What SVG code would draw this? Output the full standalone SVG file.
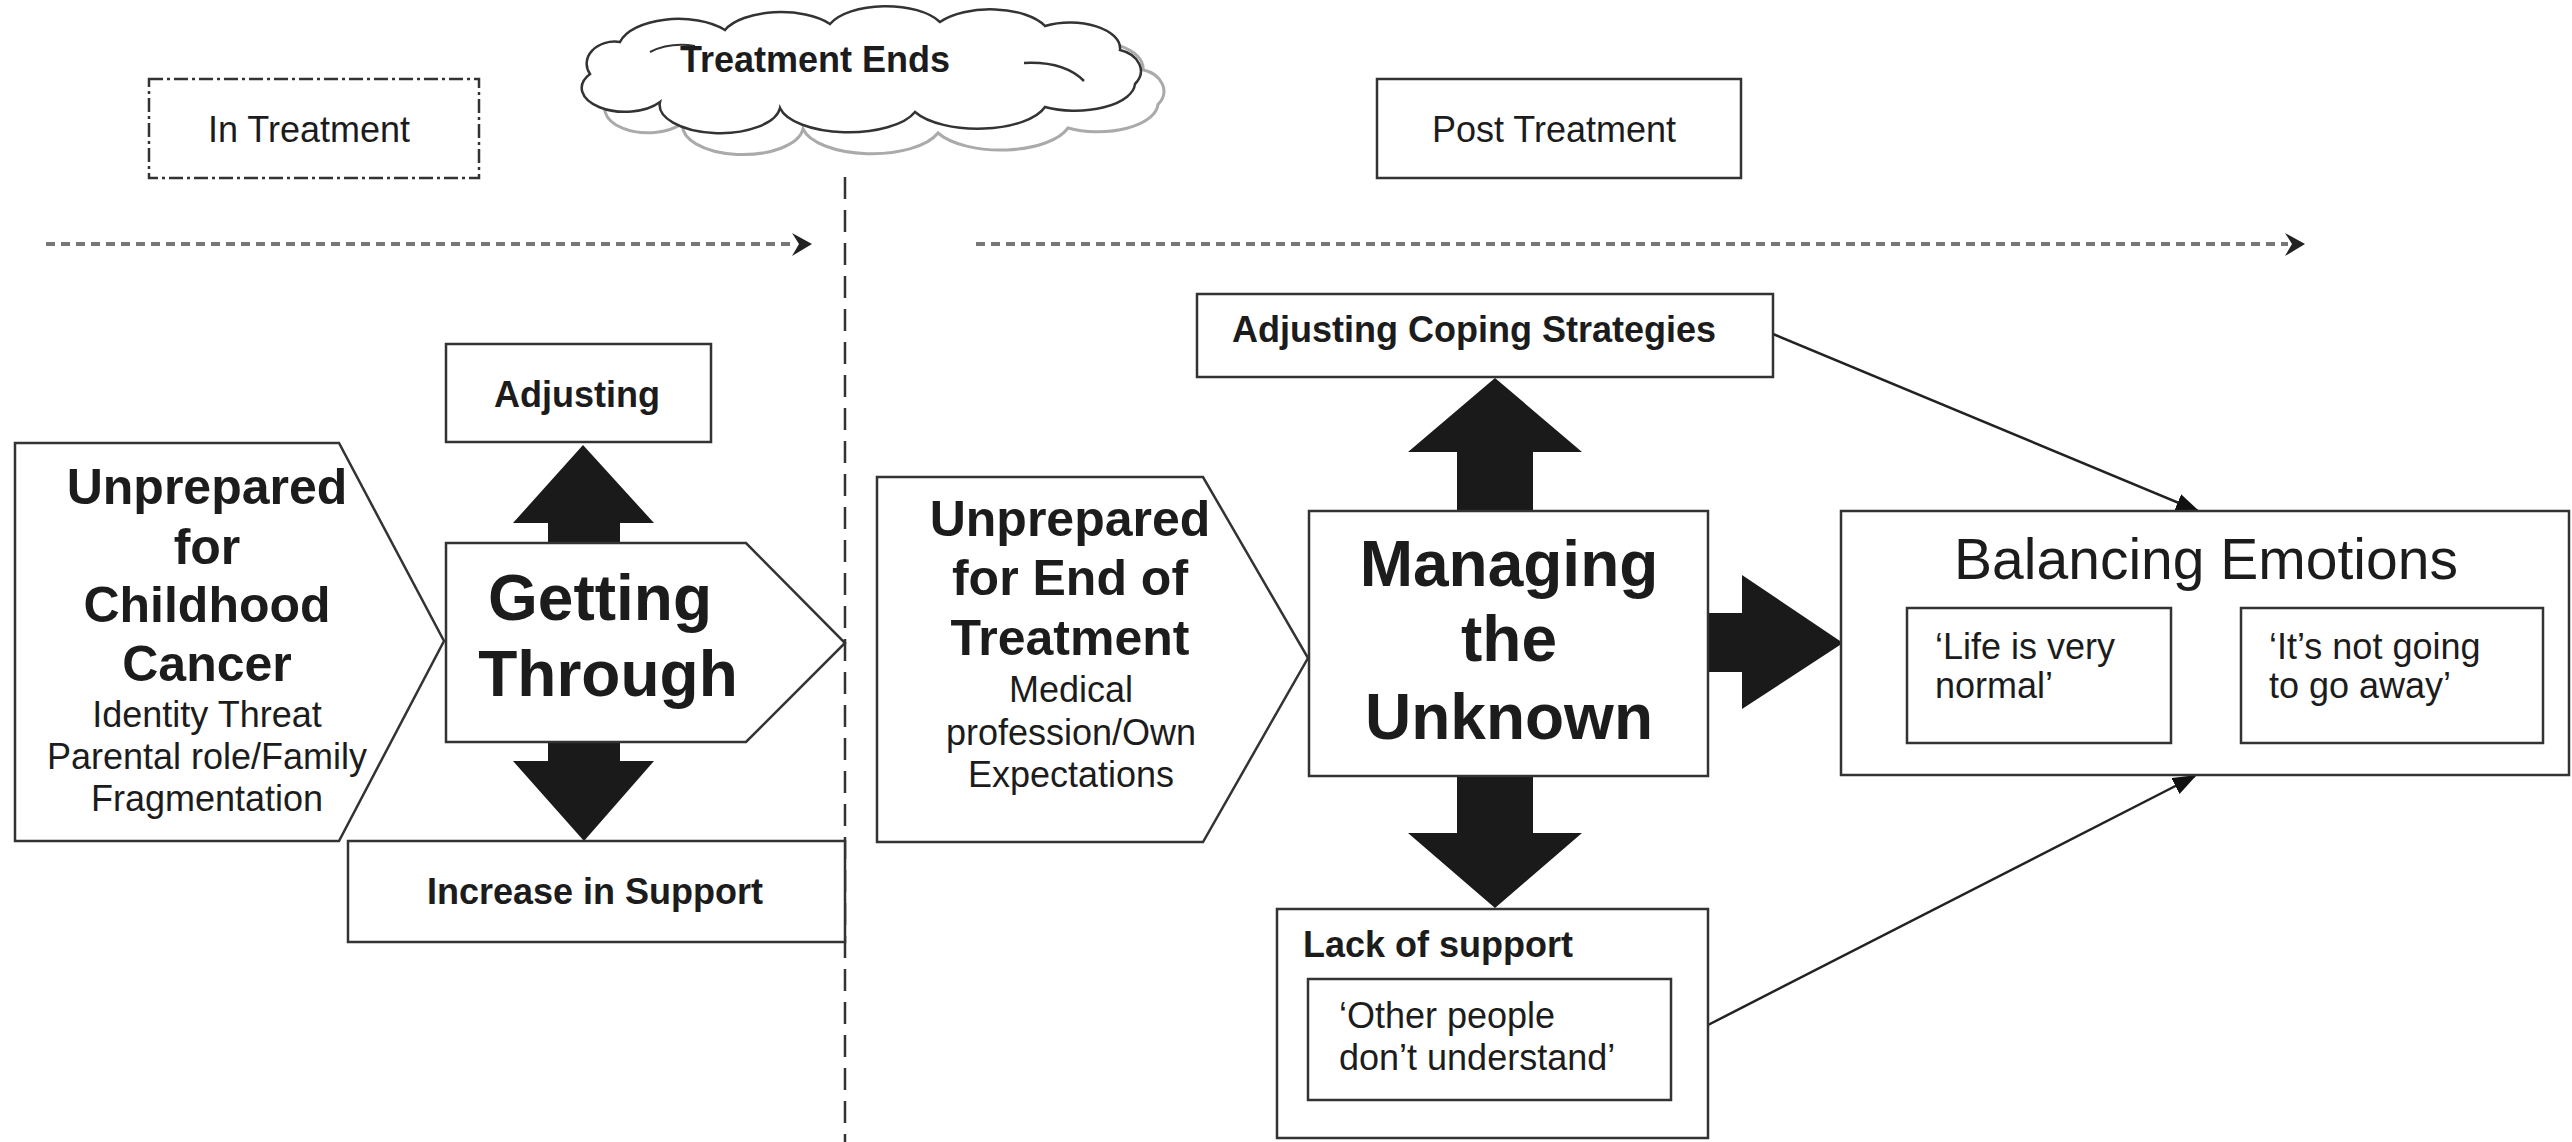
<svg xmlns="http://www.w3.org/2000/svg" width="2572" height="1142" viewBox="0 0 2572 1142">
<style>
text{font-family:"Liberation Sans",Arial,sans-serif;fill:#1c1c1c}
.b{font-weight:bold}
.lbl{font-size:36px;font-weight:bold}
.reg{font-size:36px}
.big{font-size:64px;font-weight:bold}
.mid{font-size:50px;font-weight:bold}
.box{fill:#fff;stroke:#333;stroke-width:2.5}
.blk{fill:#1a1a1a;stroke:none}
.dash{stroke:#777;stroke-width:4;stroke-dasharray:9 6;fill:none}
.chev{fill:#222}
.thin{stroke:#222;stroke-width:2.5;fill:none}
</style>
<defs>
<marker id="ah" markerUnits="userSpaceOnUse" markerWidth="24" markerHeight="18" refX="22" refY="9" orient="auto">
<path d="M0,0 L24,9 L0,18 Z" fill="#111"/>
</marker>
<path id="cloud" d="M 15 62 A 28 22 0 0 1 45 30 A 60 30 0 0 1 150 18 A 60 28 0 0 1 255 12 A 60 28 0 0 1 365 10 A 60 28 0 0 1 470 14 A 50 26 0 0 1 545 38 A 30 22 0 0 1 560 72 A 60 28 0 0 1 470 95 A 70 30 0 0 1 340 100 A 70 30 0 0 1 205 96 A 60 28 0 0 1 85 90 A 40 22 0 0 1 15 62 Z"/>
</defs>
<rect width="2572" height="1142" fill="#fff"/>

<g id="phase-in-treatment">
<rect x="149" y="79" width="330" height="99" fill="#fff" stroke="#333" stroke-width="2.5" stroke-dasharray="14 4 3 4"/>
<text class="reg" x="309" y="142" text-anchor="middle">In Treatment</text>
</g>

<g id="treatment-ends">
<use href="#cloud" transform="translate(598,31) scale(1.0,1.02)" fill="#fff" stroke="#aaa" stroke-width="3"/>
<use href="#cloud" transform="translate(575,12)" fill="#fff" stroke="#333" stroke-width="2.5"/>
<path d="M 1024 63 q 40 -2 60 18" fill="none" stroke="#333" stroke-width="2.5"/>
<path d="M 650 52 q 20 -10 45 -6" fill="none" stroke="#333" stroke-width="2"/>
<text class="lbl" x="815" y="72" text-anchor="middle">Treatment Ends</text>
</g>

<g id="phase-post-treatment">
<rect x="1377" y="79" width="364" height="99" class="box"/>
<text class="reg" x="1554" y="142" text-anchor="middle">Post Treatment</text>
</g>

<g id="connectors">
<line x1="46" y1="244" x2="796" y2="244" class="dash"/>
<polygon class="chev" points="792,233 812,244 792,256 799,244"/>
<line x1="976" y1="244" x2="2288" y2="244" class="dash"/>
<polygon class="chev" points="2285,233 2305,244 2285,256 2292,244"/>
<line x1="845" y1="177" x2="845" y2="1142" stroke="#333" stroke-width="2.5" stroke-dasharray="22 11"/>
<polygon class="blk" points="548,544 548,523 513,523 583,445 654,523 620,523 620,544"/>
<polygon class="blk" points="548,742 548,761 513,761 584,841 654,761 620,761 620,742"/>
<polygon class="blk" points="1457,511 1457,452 1408,452 1495,378 1582,452 1533,452 1533,511"/>
<polygon class="blk" points="1457,776 1457,833 1408,833 1495,908 1582,833 1533,833 1533,776"/>
<polygon class="blk" points="1707,613 1742,613 1742,575 1843,643 1742,709 1742,672 1707,672"/>
<line x1="1773" y1="334" x2="2198" y2="511" class="thin" marker-end="url(#ah)"/>
<line x1="1708" y1="1025" x2="2195" y2="776" class="thin" marker-end="url(#ah)"/>
</g>

<g id="unprepared-childhood">
<polygon class="box" points="15,443 339,443 444,641 339,841 15,841"/>
<text class="mid" text-anchor="middle" x="207" y="504">Unprepared</text>
<text class="mid" text-anchor="middle" x="207" y="564">for</text>
<text class="mid" text-anchor="middle" x="207" y="622">Childhood</text>
<text class="mid" text-anchor="middle" x="207" y="681">Cancer</text>
<text class="reg" text-anchor="middle" x="207" y="727">Identity Threat</text>
<text class="reg" text-anchor="middle" x="207" y="769">Parental role/Family</text>
<text class="reg" text-anchor="middle" x="207" y="811">Fragmentation</text>
</g>

<g id="adjusting">
<rect x="446" y="344" width="265" height="98" class="box"/>
<text class="lbl" x="577" y="407" text-anchor="middle">Adjusting</text>
</g>

<g id="getting-through">
<polygon class="box" points="446,543 746,543 845,643 746,742 446,742"/>
<text class="big" x="600" y="620" text-anchor="middle">Getting</text>
<text class="big" x="608" y="696" text-anchor="middle">Through</text>
</g>

<g id="increase-support">
<rect x="348" y="841" width="497" height="101" class="box"/>
<text class="lbl" x="595" y="904" text-anchor="middle">Increase in Support</text>
</g>

<g id="unprepared-end">
<polygon class="box" points="877,477 1203,477 1308,658 1203,842 877,842"/>
<text class="mid" text-anchor="middle" x="1070" y="536">Unprepared</text>
<text class="mid" text-anchor="middle" x="1070" y="595">for End of</text>
<text class="mid" text-anchor="middle" x="1070" y="655">Treatment</text>
<text class="reg" text-anchor="middle" x="1071" y="702">Medical</text>
<text class="reg" text-anchor="middle" x="1071" y="745">profession/Own</text>
<text class="reg" text-anchor="middle" x="1071" y="787">Expectations</text>
</g>

<g id="adjusting-coping">
<rect x="1197" y="294" width="576" height="83" class="box"/>
<text class="lbl" x="1474" y="342" text-anchor="middle">Adjusting Coping Strategies</text>
</g>

<g id="managing-unknown">
<rect x="1309" y="511" width="399" height="265" class="box"/>
<text class="big" x="1509" y="586" text-anchor="middle">Managing</text>
<text class="big" x="1509" y="661" text-anchor="middle">the</text>
<text class="big" x="1509" y="739" text-anchor="middle">Unknown</text>
</g>

<g id="lack-support">
<rect x="1277" y="909" width="431" height="229" class="box"/>
<text class="lbl" x="1303" y="957">Lack of support</text>
<rect x="1308" y="979" width="363" height="121" class="box"/>
<text class="reg" x="1339" y="1028">‘Other people</text>
<text class="reg" x="1339" y="1070">don’t understand’</text>
</g>

<g id="balancing-emotions">
<rect x="1841" y="511" width="728" height="264" class="box"/>
<text x="2206" y="579" text-anchor="middle" font-size="57">Balancing Emotions</text>
<rect x="1907" y="608" width="264" height="135" class="box"/>
<text class="reg" x="1935" y="659">‘Life is very</text>
<text class="reg" x="1935" y="698">normal’</text>
<rect x="2241" y="608" width="302" height="135" class="box"/>
<text class="reg" x="2269" y="659">‘It’s not going</text>
<text class="reg" x="2269" y="698">to go away’</text>
</g>
</svg>
